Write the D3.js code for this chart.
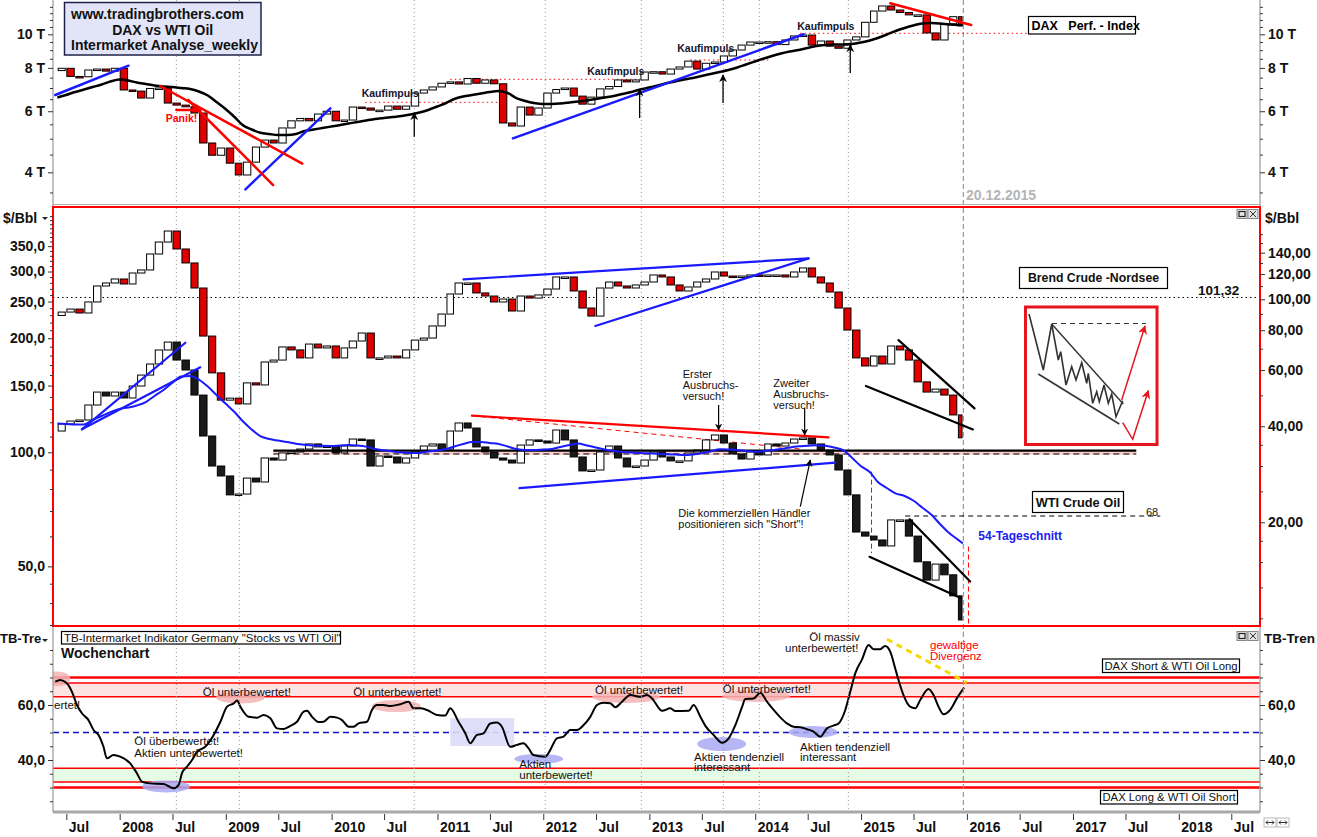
<!DOCTYPE html>
<html><head><meta charset="utf-8"><title>DAX vs WTI Oil</title>
<script src="https://cdn.jsdelivr.net/npm/d3@7/dist/d3.min.js"></script>
<style>
html,body{margin:0;padding:0;background:#fff;}
svg{display:block;font-family:"Liberation Sans",Arial,sans-serif;}
</style></head><body>
<svg id="chart" width="1317" height="837"></svg>
<script>
// ================= DATA =================
// monthly closes, month end, May 2007 .. Nov 2015, last point 18.12.2015
const firstMonth = [2007, 4];
const lastDate = [2015, 11, 18];

const daxClose = [
  7860,7980,7560,7545,7890,7940,7830,7980,
  6910,6860,6550,6980,7000,6335,6250,6180,5930,4860,4480,4700,
  4250,3930,4280,4730,4955,4860,5370,5630,5720,5630,5890,6000,
  5630,5660,6170,6130,6045,6045,6210,6080,6210,6770,6910,7050,
  7225,7290,7190,7455,7225,7385,7200,5550,5440,6170,5850,6130,
  6770,6930,7000,6635,6290,6590,6960,7070,7385,7290,7385,7785,
  7800,7680,7940,8050,8370,7940,8250,8320,8660,9010,9310,9500,
  9500,9520,9340,9630,9890,9950,9310,9565,9240,9115,9630,9830,
  10830,11670,12070,11750,11560,11375,11375,10090,9630,10720,11240,10570];

const daxMA = [
  6573,6683,6817,6932,7048,7166,7310,7408,
  7358,7261,7189,7118,7071,7048,7001,6954,6840,6661,6380,6090,
  5775,5476,5315,5203,5158,5124,5124,5158,5262,5315,5368,5422,
  5476,5531,5586,5642,5698,5736,5775,5813,5871,5950,6050,6192,
  6337,6508,6617,6683,6750,6817,6863,6772,6551,6422,6337,6295,
  6295,6316,6358,6401,6443,6508,6573,6639,6728,6817,6932,7024,
  7118,7223,7310,7408,7481,7581,7683,7786,7890,8022,8183,8348,
  8516,8658,8803,8921,9010,9130,9253,9314,9345,9345,9376,9470,
  9597,9757,9987,10221,10427,10602,10743,10779,10743,10672,10635,10635];

const brentClose = [
  89.0,91.2,93.2,90.6,98.1,110.1,112.5,115.8,
  111.7,120.9,123.6,138.7,151.2,163.7,143.8,130.0,108.5,76.7,58.8,48.3,
  49.0,47.0,54.7,53.9,63.6,64.5,70.9,69.4,65.5,72.4,70.4,71.4,
  65.5,70.4,74.0,78.4,65.5,65.5,66.4,65.5,69.4,74.5,75.6,82.5,
  89.9,103.9,112.5,112.5,104.7,102.4,98.1,100.2,91.9,102.4,100.9,103.2,
  107.7,117.5,117.5,106.2,93.9,88.6,108.5,113.3,110.1,108.5,110.9,113.3,
  119.2,117.5,110.9,106.2,109.3,113.3,115.8,121.8,118.3,117.5,118.3,119.2,
  118.3,119.2,119.2,117.5,121.8,125.4,117.5,112.5,105.4,93.9,80.1,65.5,
  61.8,66.4,62.7,71.4,69.4,64.5,55.1,51.2,52.3,50.1,43.4,36.8];

const wtiClose = [
  113.8,118.8,120.9,121.7,133.3,144.2,140.8,144.2,
  139.1,149.6,159.9,171.0,186.2,195.4,175.2,164.9,141.6,110.4,92.0,86.6,
  77.2,77.6,85.5,83.5,96.6,95.4,99.6,100.2,102.0,105.2,103.3,103.9,
  99.6,103.9,108.4,107.8,92.0,97.8,97.2,93.7,96.6,100.8,103.9,105.2,
  102.0,113.8,119.5,115.9,103.3,100.2,96.6,95.4,93.7,104.5,107.8,107.1,
  105.8,114.5,107.8,97.2,89.3,89.8,100.2,103.9,96.6,91.5,92.0,95.4,
  100.2,97.2,94.9,94.9,99.6,101.4,107.8,111.1,105.8,99.0,96.0,100.2,
  98.4,105.2,103.9,105.8,108.4,109.1,105.2,101.4,98.4,89.8,77.2,61.6,
  60.1,58.7,56.6,66.3,66.3,60.1,51.4,46.0,50.7,47.5,41.8,36.1];

const wtiMA54 = [
  119.1,118.8,118.4,118.4,121.7,124.7,127.7,130.1,
  131.3,132.9,135.7,140.8,146.0,152.4,158.5,159.0,155.6,149.1,141.6,134.5,
  127.7,120.9,114.9,110.4,108.4,107.4,106.5,105.4,104.7,104.2,104.0,103.9,
  104.2,104.5,104.2,103.5,102.0,101.2,100.5,99.9,99.6,99.6,100.5,101.1,
  102.0,103.6,105.2,106.5,106.5,105.8,105.2,103.6,102.0,101.4,101.4,101.7,
  102.0,103.3,104.5,105.5,104.2,103.0,101.7,100.8,100.2,99.9,99.6,99.4,
  99.1,98.8,98.6,98.4,98.7,99.4,100.5,101.8,101.7,101.4,100.8,100.4,
  100.8,101.4,102.0,103.0,103.7,104.0,104.4,104.0,103.0,101.4,96.9,92.0,
  88.7,83.5,80.5,77.9,76.7,74.6,71.5,68.5,64.7,61.3,58.9,57.5];

// TB-Intermarket indicator (time in decimal years)
const indTime = [
  2007.391,2007.438,2007.501,2007.549,2007.596,2007.643,2007.705,2007.753,2007.800,2007.847,2007.879,2007.941,
  2008.005,2008.099,2008.162,2008.210,2008.288,2008.414,2008.508,2008.555,2008.587,2008.635,2008.682,2008.729,2008.807,2008.886,2008.949,
  2009.012,2009.075,2009.107,2009.138,2009.216,2009.296,2009.358,2009.421,2009.484,2009.547,2009.610,2009.673,2009.736,2009.768,2009.815,2009.877,2009.924,2009.988,
  2010.051,2010.098,2010.161,2010.208,2010.255,2010.334,2010.381,2010.429,2010.491,2010.554,2010.649,2010.727,2010.774,2010.838,2010.901,2010.995,
  2011.074,2011.121,2011.199,2011.263,2011.310,2011.373,2011.435,2011.499,2011.562,2011.609,2011.687,2011.751,2011.813,2011.860,2011.907,
  2012.018,2012.065,2012.128,2012.191,2012.254,2012.317,2012.380,2012.443,2012.506,2012.568,2012.632,2012.679,2012.742,2012.821,2012.915,2012.978,
  2013.025,2013.120,2013.198,2013.245,2013.371,2013.418,2013.482,2013.529,2013.607,2013.687,2013.749,2013.812,2013.875,2013.906,2013.985,
  2014.048,2014.111,2014.174,2014.237,2014.300,2014.363,2014.426,2014.489,2014.551,2014.615,2014.678,2014.740,2014.788,2014.851,2014.898,2014.945,
  2015.008,2015.071,2015.118,2015.181,2015.228,2015.276,2015.323,2015.354,2015.401,2015.464,2015.512,2015.559,2015.637,2015.685,2015.732,2015.779,2015.842,2015.905,2015.974];
const indValue = [
  68.5,69.1,67.9,64.8,60.0,57.0,54.5,50.9,49.1,44.8,40.6,41.8,
  41.2,38.8,35.2,32.1,31.5,31.3,29.7,30.9,35.2,37.6,40.0,43.0,44.8,49.1,53.9,
  59.4,60.6,61.6,59.4,55.7,55.4,56.4,55.2,51.5,51.3,52.4,53.9,57.6,57.9,55.7,53.8,53.9,55.7,
  55.4,54.5,52.1,52.1,53.3,53.9,58.2,60.0,60.0,59.6,60.3,61.2,58.8,58.8,58.2,56.4,
  56.2,58.8,53.9,49.7,46.1,49.1,49.7,53.3,53.6,52.1,44.8,45.5,46.1,44.3,41.8,
  41.2,43.6,47.9,48.5,50.9,50.9,52.7,55.7,60.0,60.8,60.6,59.2,61.2,63.6,63.0,63.6,
  62.4,57.9,58.8,57.8,57.9,60.0,55.7,52.4,49.1,46.3,47.9,52.7,59.2,62.2,62.4,
  64.5,61.2,58.2,55.5,53.3,52.1,51.9,51.2,50.3,48.5,51.5,52.5,53.3,58.2,64.8,71.5,
  76.5,81.8,80.3,80.3,81.5,79.4,73.3,69.1,63.6,59.4,58.8,61.8,65.8,63.6,59.4,56.6,58.2,62.4,66.3];

// axis ticks
const daxTicks = [4000,6000,8000,10000];
const daxMinor = [3500,4500,5000,5500,6500,7000,7500,8500,9000,9500,10500,11000,11500,12000];
const leftTicks = [50,100,150,200,250,300,350];
const leftMinor = [35,40,45,60,70,80,90,110,120,130,140,160,170,180,190,210,220,230,240,260,270,280,290,310,320,330,340,360,370,380,390,400,410,420];
const rightTicks = [20,40,60,80,100,120,140];
const rightMinor = [10,12.5,15,17.5,25,30,35,50,70,90,110,130,150,160];
const indTicks = [40,60];
const indMinor = [25,30,35,45,50,55,65,70,75,80];
const yearTicks = [2008,2009,2010,2011,2012,2013,2014,2015,2016,2017,2018];
const julTicks = [2007,2008,2009,2010,2011,2012,2013,2014,2015,2016,2017,2018];

// indicator zones
const zoneHigh = [63,68], zoneLow = [32,37], zoneThick = [70,30], zoneMid = 50;

// signal dates (grey dotted verticals)
const signalTimes = [2008.534,2009.128,2010.781,2012.018,2012.925,2013.699,2014.039,2014.880];

// trend lines [time, value]
const daxLines = [
  {c:"#1a1aff", p:[[2007.391,6683],[2008.083,8118]]},
  {c:"#1a1aff", p:[[2009.185,3573],[2009.988,6118]]},
  {c:"#1a1aff", p:[[2011.713,5013],[2014.457,10000]]},
  {c:"#ff0000", p:[[2015.276,12285],[2016.041,10637]]},
  {c:"#ff0000", p:[[2008.382,7094],[2009.723,4240]]},
  {c:"#ff0000", p:[[2008.647,6465],[2009.447,3677]]},
  {c:"#ff0000", p:[[2008.534,6050],[2008.760,6050]]}
];
const daxLevels = [[2010.318,2011.593,6367],[2011.121,2012.915,7417],[2013.387,2014.142,8431],[2014.425,2016.578,10067]];
// [time, from value, to value]
const daxArrows = [[2010.781,5066,5930],[2012.908,5736,6940],[2013.696,6335,7632],[2014.898,7734,9314]];
// [label centre time, value of baseline]
const daxArrowText = [[2010.554,6595],[2012.683,7657],[2013.533,8891],[2014.667,10256]];

const brentLines = [
  {c:"#1a1aff", p:[[2011.246,115.5],[2014.504,134.4]]},
  {c:"#1a1aff", p:[[2012.490,82.5],[2014.504,134.4]]},
  {c:"#000", p:[[2015.354,74.5],[2016.072,45.5]]},
  {c:"#000", p:[[2015.046,53.5],[2016.057,39.1]]}
];
const wtiLines = [
  {c:"#1a1aff", p:[[2007.643,115.0],[2008.619,194.6]]},
  {c:"#1a1aff", p:[[2007.643,115.0],[2008.760,167.6]]},
  {c:"#ff0000", p:[[2011.326,124.9],[2014.693,109.5]]},
  {c:"#1a1aff", p:[[2011.775,80.4],[2014.756,93.9]]},
  {c:"#000", p:[[2015.458,66.6],[2016.031,45.6]]},
  {c:"#000", p:[[2015.080,53.0],[2015.946,41.2]]}
];

// ================= HELPERS =================
const toDate = y => { const yr = Math.floor(y); const a = new Date(yr,0,1), b = new Date(yr+1,0,1); return new Date(+a + (y-yr)*(b-a)); };
const dates = d3.timeMonth.range(new Date(firstMonth[0], firstMonth[1], 1), new Date(2015, 11, 1))
  .map(d => d3.timeDay.offset(d3.timeMonth.offset(d,1), -1));
dates.push(new Date(lastDate[0], lastDate[1], lastDate[2]));

const L = 53, R = 1260;
const x = d3.scaleTime().domain([new Date(2007,4,16), new Date(2018,9,8)]).range([L, R]);
const yTop = d3.scaleLog().domain([3220, 12557]).range([205, 0]);
const yL = d3.scaleLog().domain([34.8, 444]).range([626, 207]);
const yR = d3.scaleLog().domain([9.46, 194.7]).range([626, 207]);
const yI = d3.scaleLinear().domain([20, 80]).range([815, 650]);
const xt = t => x(toDate(t));

const svg = d3.select("#chart");
const defs = svg.append("defs");
[["topClip",0,204],["midClip",208,417],["botClip",627,183]].forEach(([id,y0,h]) => {
  defs.append("clipPath").attr("id", id).append("rect").attr("x", L).attr("y", y0).attr("width", R-L).attr("height", h);
});
function marker(id, col){
  defs.append("marker").attr("id", id).attr("viewBox","0 0 10 10").attr("refX",9).attr("refY",5)
    .attr("markerWidth",6).attr("markerHeight",6).attr("orient","auto-start-reverse")
    .append("path").attr("d","M0,0 L10,5 L0,10 L3,5 z").attr("fill", col);
}
marker("arrK","#000"); marker("arrR","#e8141e");

svg.append("rect").attr("width",1317).attr("height",837).attr("fill","#fff");

// ---------- bottom panel zones ----------
const gB = svg.append("g").attr("clip-path","url(#botClip)");
gB.append("rect").attr("x",L).attr("width",R-L).attr("y",yI(zoneHigh[1])).attr("height",yI(zoneHigh[0])-yI(zoneHigh[1])).attr("fill","#fde2e2");
gB.append("rect").attr("x",L).attr("width",R-L).attr("y",yI(zoneLow[1])).attr("height",yI(zoneLow[0])-yI(zoneLow[1])).attr("fill","#e6fbe6");
gB.selectAll("line.zt").data(zoneHigh.concat(zoneLow)).join("line").attr("class","zt").attr("x1",L).attr("x2",R)
  .attr("y1",d=>yI(d)).attr("y2",d=>yI(d)).attr("stroke","#f00").attr("stroke-width",1.5);
gB.selectAll("line.zk").data(zoneThick).join("line").attr("class","zk").attr("x1",L).attr("x2",R)
  .attr("y1",d=>yI(d)).attr("y2",d=>yI(d)).attr("stroke","#f00").attr("stroke-width",2.6);
gB.append("line").attr("x1",L).attr("x2",R).attr("y1",yI(zoneMid)).attr("y2",yI(zoneMid))
  .attr("stroke","#1010d0").attr("stroke-width",1.3).attr("stroke-dasharray","6,4");

// ---------- grid verticals ----------
svg.selectAll("line.sig").data(signalTimes).join("line").attr("class","sig")
  .attr("x1",d=>xt(d)).attr("x2",d=>xt(d)).attr("y1",0).attr("y2",810)
  .attr("stroke","#9a9a9a").attr("stroke-width",1).attr("stroke-dasharray","1,3");
const endX = x(new Date(2015,11,20));
svg.append("line").attr("x1",endX).attr("x2",endX).attr("y1",0).attr("y2",810)
  .attr("stroke","#9a9a9a").attr("stroke-width",1.2).attr("stroke-dasharray","5,3");

// ---------- candle helper ----------
function candles(g, vals, ys, upFill, downFill){
  g.append("g").selectAll("rect").data(d3.range(1, vals.length)).join("rect")
    .attr("x", i => x(dates[i-1]) + 0.8)
    .attr("width", i => Math.max(1, x(dates[i]) - x(dates[i-1]) - 1.6))
    .attr("y", i => ys(Math.max(vals[i-1], vals[i])))
    .attr("height", i => Math.max(1.5, ys(Math.min(vals[i-1], vals[i])) - ys(Math.max(vals[i-1], vals[i]))))
    .attr("fill", i => vals[i] >= vals[i-1] ? upFill : downFill)
    .attr("stroke", "#000").attr("stroke-width", 1);
}
function trend(g, lines, ys, w){
  g.selectAll(null).data(lines).join("line")
    .attr("x1", d => xt(d.p[0][0])).attr("y1", d => ys(d.p[0][1]))
    .attr("x2", d => xt(d.p[1][0])).attr("y2", d => ys(d.p[1][1]))
    .attr("stroke", d => d.c).attr("stroke-width", w).attr("stroke-linecap","round");
}

// ---------- TOP PANEL: DAX ----------
const gT = svg.append("g").attr("clip-path","url(#topClip)");
gT.selectAll("line.lv").data(daxLevels).join("line").attr("class","lv")
  .attr("x1",d=>xt(d[0])).attr("x2",d=>xt(d[1])).attr("y1",d=>yTop(d[2])).attr("y2",d=>yTop(d[2]))
  .attr("stroke","#f00").attr("stroke-width",1).attr("stroke-dasharray","1.5,3");
candles(gT, daxClose, yTop, "#fff", "#e00000");
gT.append("path").datum(daxMA).attr("fill","none").attr("stroke","#000").attr("stroke-width",2.5)
  .attr("d", d3.line().x((d,i)=>x(dates[i])).y(d=>yTop(d)).curve(d3.curveMonotoneX));
trend(gT, daxLines, yTop, 2.5);
gT.selectAll("line.ar").data(daxArrows).join("line").attr("class","ar")
  .attr("x1",d=>xt(d[0])).attr("x2",d=>xt(d[0])).attr("y1",d=>yTop(d[1])).attr("y2",d=>yTop(d[2]))
  .attr("stroke","#000").attr("stroke-width",1.3).attr("marker-end","url(#arrK)");
gT.selectAll("text.kf").data(daxArrowText).join("text").attr("class","kf")
  .attr("x",d=>xt(d[0])).attr("y",d=>yTop(d[1]))
  .attr("text-anchor","middle").attr("font-size",10.5).attr("font-weight","bold").attr("fill","#14142e").text("Kaufimpuls");
gT.append("text").attr("x",181.5).attr("y",121.5).attr("text-anchor","middle").attr("font-size",10.5)
  .attr("font-weight","bold").attr("fill","#f00").text("Panik!");

// title box
svg.append("rect").attr("x",64.5).attr("y",2.5).attr("width",196.5).attr("height",52.5)
  .attr("fill","#e2e5f8").attr("stroke","#20204a").attr("stroke-width",1.5);
const title = svg.append("g").attr("font-size",14).attr("font-weight","bold").attr("fill","#111");
title.append("text").attr("x",71).attr("y",19).text("www.tradingbrothers.com");
title.append("text").attr("x",162.7).attr("y",34.5).attr("text-anchor","middle").text("DAX vs WTI Oil");
title.append("text").attr("x",71).attr("y",50).text("Intermarket Analyse_weekly");

svg.append("rect").attr("x",1028.5).attr("y",16.5).attr("width",107).attr("height",17.5)
  .attr("fill","#fff").attr("stroke","#000").attr("stroke-width",1.2);
svg.append("text").attr("x",1031.5).attr("y",30).attr("font-size",12.5).attr("font-weight","bold")
  .style("white-space","pre").text("DAX   Perf. - Index");
svg.append("text").attr("x",966).attr("y",199.5).attr("font-size",14).attr("font-weight","bold")
  .attr("fill","#b4b4b4").text("20.12.2015");

// ---------- MIDDLE PANEL: Brent & WTI ----------
const gM = svg.append("g").attr("clip-path","url(#midClip)");
const hz = [[2009.449, 2017.598]];
gM.append("rect").attr("x",xt(hz[0][0])).attr("width",xt(hz[0][1])-xt(hz[0][0]))
  .attr("y",yL(101.0)).attr("height",yL(98.4)-yL(101.0)).attr("fill","#fbd0d0");
gM.append("line").attr("x1",xt(hz[0][0])).attr("x2",xt(hz[0][1])).attr("y1",yL(99.0)).attr("y2",yL(99.0))
  .attr("stroke","#000").attr("stroke-width",1).attr("stroke-dasharray","6,4");
gM.append("line").attr("x1",L).attr("x2",R).attr("y1",yR(101.32)).attr("y2",yR(101.32))
  .attr("stroke","#000").attr("stroke-width",1).attr("stroke-dasharray","1.5,3");
gM.append("line").attr("x1",xt(2015.417)).attr("x2",xt(2017.825)).attr("y1",yL(67.9)).attr("y2",yL(67.9))
  .attr("stroke","#000").attr("stroke-width",1).attr("stroke-dasharray","5,4");
gM.append("line").attr("x1",xt(2015.099)).attr("x2",xt(2015.099)).attr("y1",yL(88.9)).attr("y2",yL(54.2))
  .attr("stroke","#f00").attr("stroke-width",1).attr("stroke-dasharray","5,3");
gM.append("line").attr("x1",xt(2016.015)).attr("x2",xt(2016.015)).attr("y1",yL(56.4)).attr("y2",yL(34.8))
  .attr("stroke","#f00").attr("stroke-width",1).attr("stroke-dasharray","5,3");
gM.append("line").attr("x1",xt(2011.329)).attr("y1",yL(124.9)).attr("x2",xt(2014.426)).attr("y2",yL(102.0))
  .attr("stroke","#f00").attr("stroke-width",1).attr("stroke-dasharray","5,4");

candles(gM, brentClose, yR, "#fff", "#e00000");
candles(gM, wtiClose, yL, "#fff", "#1a1a1a");
gM.append("line").attr("x1",xt(hz[0][0])).attr("x2",xt(hz[0][1])).attr("y1",yL(101.0)).attr("y2",yL(101.0))
  .attr("stroke","#000").attr("stroke-width",2.2);
gM.append("path").datum(wtiMA54).attr("fill","none").attr("stroke","#1a1aff").attr("stroke-width",2)
  .attr("d", d3.line().x((d,i)=>x(dates[i])).y(d=>yL(d)).curve(d3.curveMonotoneX));
trend(gM, brentLines, yR, 2.2);
trend(gM, wtiLines, yL, 2.2);

const ann = gM.append("g").attr("font-size",11).attr("fill","#111");
[["Erster",378],["Ausbruchs-",389],["versuch!",400]].forEach(([t,yy])=>ann.append("text").attr("x",682.7).attr("y",yy).text(t));
[["Zweiter",387],["Ausbruchs-",398],["versuch!",409]].forEach(([t,yy])=>ann.append("text").attr("x",773.3).attr("y",yy).text(t));
ann.append("text").attr("x",678.3).attr("y",517).text("Die kommerziellen Händler");
ann.append("text").attr("x",678.3).attr("y",528).text('positionieren sich "Short"!');
const annArrows = [[2013.654,133.3,2013.654,114.5],[2014.467,130.6,2014.467,111.1],[2014.426,71.9,2014.520,95.4]];
gM.selectAll("line.aa").data(annArrows).join("line").attr("class","aa")
  .attr("x1",d=>xt(d[0])).attr("y1",d=>yL(d[1])).attr("x2",d=>xt(d[2])).attr("y2",d=>yL(d[3]))
  .attr("stroke","#000").attr("stroke-width",1.2).attr("marker-end","url(#arrK)");

function box(x0,y0,w,h,txt,fs,bold,tx){
  svg.append("rect").attr("x",x0).attr("y",y0).attr("width",w).attr("height",h).attr("fill","#fff").attr("stroke","#000").attr("stroke-width",1.2);
  svg.append("text").attr("x",tx===undefined?x0+w/2:tx).attr("y",y0+h/2+fs*0.36).attr("text-anchor",tx===undefined?"middle":"start")
    .attr("font-size",fs).attr("font-weight",bold?"bold":"normal").attr("fill","#111").text(txt);
}
box(1019.5,267.5,148,21,"Brend Crude -Nordsee",12.3,true);
box(1032.5,491.5,91,21,"WTI Crude Oil",12.8,true);
svg.append("text").attr("x",978.3).attr("y",540).attr("font-size",12).attr("font-weight","bold").attr("fill","#2020f0").text("54-Tageschnitt");
svg.append("text").attr("x",1198).attr("y",294.5).attr("font-size",13.5).attr("font-weight","bold").attr("fill","#111").text("101,32");
svg.append("text").attr("x",1146).attr("y",515.5).attr("font-size",11).attr("fill","#111").text("68");

// falling wedge illustration
svg.append("rect").attr("x",1025.5).attr("y",307).attr("width",131.5).attr("height",137.5).attr("fill","#fff").attr("stroke","#e8141e").attr("stroke-width",3);
const zig = [[1029,314],[1043.3,370],[1051.7,324],[1058.3,360],[1060.7,351.7],[1066,385],[1071.7,366.7],[1076,380],[1081.7,362.7],[1086.7,383.3],[1088.3,373.3],[1092.7,403.3],[1096.7,391.7],[1099.3,401.7],[1104,385],[1108.3,403.3],[1111.7,394],[1116,416.7],[1122.7,400.7]];
svg.append("path").attr("d",d3.line()(zig)).attr("fill","none").attr("stroke","#333").attr("stroke-width",1.6);
svg.append("line").attr("x1",1051.7).attr("y1",324).attr("x2",1123.3).attr("y2",404).attr("stroke","#333").attr("stroke-width",1.4);
svg.append("line").attr("x1",1038.3).attr("y1",374).attr("x2",1119.3).attr("y2",424).attr("stroke","#333").attr("stroke-width",1.6);
svg.append("line").attr("x1",1052).attr("y1",323.5).attr("x2",1146).attr("y2",323.5).attr("stroke","#333").attr("stroke-width",1).attr("stroke-dasharray","5,4");
svg.append("line").attr("x1",1121.7).attr("y1",400).attr("x2",1145).attr("y2",326).attr("stroke","#e8141e").attr("stroke-width",1.5).attr("marker-end","url(#arrR)");
svg.append("path").attr("d","M1122.7,422.7 L1132.7,439.3 L1148.3,390.7").attr("fill","none").attr("stroke","#e8141e").attr("stroke-width",1.5).attr("marker-end","url(#arrR)");

// ---------- BOTTOM PANEL: indicator ----------
const ell = [
  [2007.41,69.5,13,7.5,"p"],[2009.138,62.7,24.5,6,"p"],[2010.611,59.6,24.5,6,"p"],[2012.781,62.9,34,6,"p"],[2014.008,63.3,34,6,"p"],
  [2008.437,30.4,24,6,"b"],[2011.957,40.4,24.5,5,"b"],[2013.683,45.8,24.5,7,"b"],[2014.547,50.2,24.5,6,"b"]];
gB.selectAll("ellipse").data(ell).join("ellipse")
  .attr("cx",d=>xt(d[0])).attr("cy",d=>yI(d[1])).attr("rx",d=>d[2]).attr("ry",d=>d[3])
  .attr("fill",d=>d[4]==="p"?"#f4b4b4":"#a9a9f2").attr("opacity",0.85);
gB.append("rect").attr("x",xt(2011.121)).attr("width",xt(2011.725)-xt(2011.121)).attr("y",yI(55.2)).attr("height",yI(45.1)-yI(55.2))
  .attr("fill","#dcdcf8").attr("opacity",0.9);
gB.append("path").datum(indValue).attr("fill","none").attr("stroke","#000").attr("stroke-width",2)
  .attr("d", d3.line().x((d,i)=>xt(indTime[i])).y(d=>yI(d)).curve(d3.curveMonotoneX));
gB.append("line").attr("x1",xt(2015.245)).attr("y1",yI(83.9)).attr("x2",xt(2016.0)).attr("y2",yI(68.1))
  .attr("stroke","#f5d800").attr("stroke-width",3).attr("stroke-dasharray","6,5");
const bt = svg.append("g").attr("font-size",11.5).attr("fill","#111");
bt.append("text").attr("x",54).attr("y",709).text("ertet!");
[[202.7,695.5],[353.3,695.5],[595,694],[722.7,692.5]].forEach(([a,b])=>bt.append("text").attr("x",a).attr("y",b).text("Öl unterbewertet!"));
bt.append("text").attr("x",134.3).attr("y",744.5).text("Öl überbewertet!");
bt.append("text").attr("x",134.3).attr("y",756.5).text("Aktien unterbewertet!");
bt.append("text").attr("x",519.3).attr("y",768).text("Aktien");
bt.append("text").attr("x",519.3).attr("y",779).text("unterbewertet!");
bt.append("text").attr("x",694).attr("y",760.5).text("Aktien tendenziell");
bt.append("text").attr("x",694).attr("y",771).text("interessant");
bt.append("text").attr("x",800).attr("y",750.5).text("Aktien tendenziell");
bt.append("text").attr("x",800).attr("y",761).text("interessant");
bt.append("text").attr("x",809.3).attr("y",641).text("Öl massiv");
bt.append("text").attr("x",785).attr("y",652).text("unterbewertet!");
bt.append("text").attr("x",930).attr("y",649).attr("fill","#f00").text("gewaltige");
bt.append("text").attr("x",930).attr("y",659.5).attr("fill","#f00").text("Divergenz");
box(61.5,631.5,279,12.5,'TB-Intermarket Indikator Germany "Stocks vs WTI Oil"',11.5,false,64);
svg.append("text").attr("x",61).attr("y",657.5).attr("font-size",14).attr("font-weight","bold").attr("fill","#111").text("Wochenchart");
box(1102.5,659,137,13.5,"DAX Short & WTI Oil Long",11.3,false);
box(1100.5,790.5,137,13.5,"DAX Long & WTI Oil Short",11.3,false);

// ---------- FRAMES ----------
svg.append("line").attr("x1",L).attr("x2",R).attr("y1",204.5).attr("y2",204.5).attr("stroke","#b0b0b0");
svg.append("line").attr("x1",L).attr("x2",L).attr("y1",0).attr("y2",812).attr("stroke","#a0a0a0").attr("stroke-width",1.3);
svg.append("line").attr("x1",R).attr("x2",R).attr("y1",0).attr("y2",812).attr("stroke","#a0a0a0").attr("stroke-width",1.3);
svg.append("rect").attr("x",L).attr("y",207).attr("width",R-L).attr("height",419).attr("fill","none").attr("stroke","#f00").attr("stroke-width",2);
svg.append("rect").attr("x",L).attr("y",810.5).attr("width",R-L).attr("height",3).attr("fill","#a8a8a8");
[[1237,209.5],[1237,631.5]].forEach(([a,b])=>{
  svg.append("rect").attr("x",a).attr("y",b).attr("width",10).attr("height",9).attr("fill","#e4e4e4").attr("stroke","#888");
  svg.append("rect").attr("x",a+2).attr("y",b+2).attr("width",6).attr("height",5).attr("fill","none").attr("stroke","#222").attr("stroke-width",1.2);
  svg.append("rect").attr("x",a+11).attr("y",b).attr("width",10).attr("height",9).attr("fill","#e4e4e4").attr("stroke","#888");
  svg.append("path").attr("d",`M${a+13},${b+1.5} L${a+19},${b+7.5} M${a+19},${b+1.5} L${a+13},${b+7.5}`).attr("stroke","#333");
});
[[1264,818],[1277,818]].forEach(([a,b])=>{
  svg.append("rect").attr("x",a).attr("y",b).attr("width",12).attr("height",9).attr("fill","#fff").attr("stroke","#bbb");
  svg.append("path").attr("d",`M${a+2},${b+4.5} L${a+10},${b+4.5} M${a+2},${b+4.5} l2,-2 M${a+2},${b+4.5} l2,2 M${a+10},${b+4.5} l-2,-2 M${a+10},${b+4.5} l-2,2`).attr("stroke","#333").attr("fill","none");
});

// ---------- AXES ----------
function styleAxis(g, minor){
  g.select(".domain").remove();
  g.selectAll(".tick line").attr("stroke","#333");
  if(!minor) g.selectAll(".tick text").attr("font-family","Liberation Sans, Arial, sans-serif").attr("font-size",14).attr("font-weight","bold").attr("fill","#111");
}
const fmtT = d => (d/1000) + " T";
const fmt1 = d => d3.format(".1f")(d).replace(".",",");
const fmt2 = d => d3.format(".2f")(d).replace(".",",");
function yAxis(scale, side, major, minorV, fmt){
  const pos = side === "left" ? L : R;
  const ax = side === "left" ? d3.axisLeft : d3.axisRight;
  const g1 = svg.append("g").attr("transform",`translate(${pos},0)`).call(ax(scale).tickValues(major).tickFormat(fmt).tickSize(5).tickPadding(3)); styleAxis(g1);
  const g2 = svg.append("g").attr("transform",`translate(${pos},0)`).call(ax(scale).tickValues(minorV).tickFormat("").tickSize(3)); styleAxis(g2,true);
}
yAxis(yTop, "left", daxTicks, daxMinor, fmtT);
yAxis(yTop, "right", daxTicks, daxMinor, fmtT);
yAxis(yL, "left", leftTicks, leftMinor, fmt1);
yAxis(yR, "right", rightTicks, rightMinor, fmt2);
yAxis(yI, "left", indTicks, indMinor, fmt1);
yAxis(yI, "right", indTicks, indMinor, fmt1);

const xTicks = [];
julTicks.forEach(y => xTicks.push(new Date(y,6,1)));
yearTicks.forEach(y => xTicks.push(new Date(y,0,1)));
xTicks.sort((a,b)=>a-b);
const gx = svg.append("g").attr("transform","translate(0,814)")
  .call(d3.axisBottom(x).tickValues(xTicks).tickFormat(d => d.getMonth()===6 ? "Jul" : d.getFullYear()).tickSize(6));
styleAxis(gx);
gx.selectAll(".tick text").attr("text-anchor","start").attr("x",2).attr("y",18).attr("dy",0);

// panel labels
const pl = svg.append("g").attr("font-size",14).attr("font-weight","bold").attr("fill","#111");
pl.append("text").attr("x",3).attr("y",222.5).text("$/Bbl");
pl.append("text").attr("x",1265).attr("y",222.5).text("$/Bbl");
pl.append("text").attr("x",0).attr("y",643).attr("font-size",13).text("TB-Tre");
pl.append("text").attr("x",1264).attr("y",643).attr("font-size",13.5).text("TB-Tren");
svg.append("path").attr("d","M42,639 L48,639 L45,642 z").attr("fill","#222");
svg.append("path").attr("d","M42,217 L48,217 L45,220 z").attr("fill","#222");
</script>
</body></html>
